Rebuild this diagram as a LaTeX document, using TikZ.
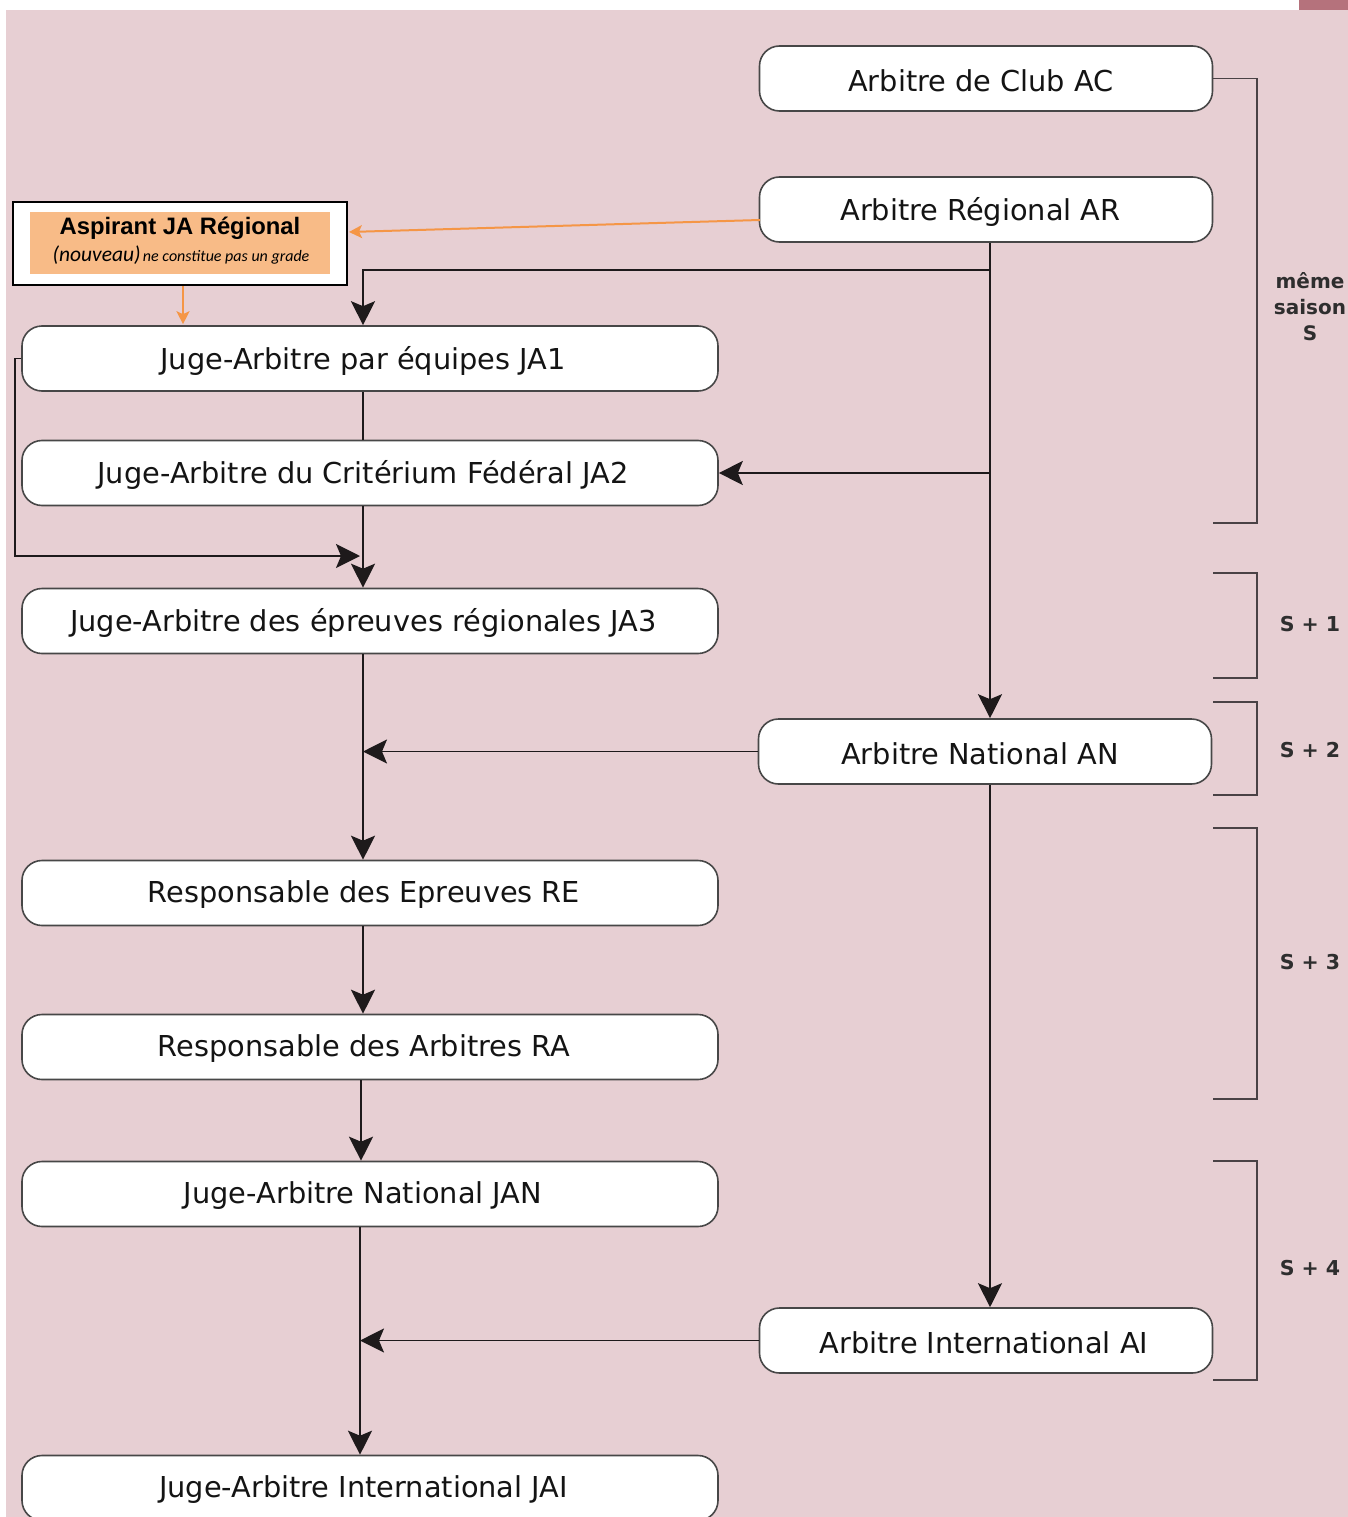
\documentclass[tikz,border=0pt]{standalone}
\usepackage{fontspec}
\setmainfont{DejaVu Sans}
\newfontfamily\aspfont{Liberation Sans}
\newfontfamily\calfont{Carlito}
\usetikzlibrary{arrows.meta,calc}
\definecolor{bgpink}{HTML}{E7CFD3}
\definecolor{darkpink}{HTML}{B5727C}
\definecolor{aspfill}{HTML}{F8BB87}
\definecolor{aspline}{HTML}{F59646}
\definecolor{lineclr}{HTML}{1E1A1B}
\definecolor{brkclr}{HTML}{4A4245}
\tikzset{
  box/.style={draw=black!72, line width=1.6pt, fill=white, rounded corners=20pt,
    minimum height=65pt, inner sep=0pt},
  lbox/.style={box, minimum width=696pt},
  rbox/.style={box, minimum width=453pt},
  tx/.style={font=\fontsize{28.8}{34}\selectfont, text=black!92, inner sep=0pt, yshift=-2pt},
  arr/.style={draw=lineclr, line width=1.8pt, -{Stealth[length=24pt,width=24pt,inset=5pt]}},
  plain/.style={draw=lineclr, line width=1.8pt},
  oarr/.style={draw=aspline, line width=2pt, -{Stealth[length=13pt,width=13pt,inset=3pt]}},
  brk/.style={draw=brkclr, line width=1.6pt},
  side/.style={font=\fontsize{20}{26}\selectfont\bfseries, text=black!82, align=center, inner sep=0pt},
  sideS/.style={font=\fontsize{20.5}{26}\selectfont\bfseries, text=black!82, inner sep=0pt}
}
\begin{document}
\begin{tikzpicture}[x=1pt,y=-1pt]
\useasboundingbox (0,0) rectangle (1348,1517);
\clip (0,0) rectangle (1348,1517);
\fill[bgpink] (6,10) rectangle (1348,1517);
\fill[darkpink] (1299,0) rectangle (1348,10);

% right column
\node[rbox, label={[tx,xshift=-5pt]center:Arbitre de Club AC}] (AC) at (986,78.5) {};
\node[rbox, label={[tx,xshift=-5.5pt]center:Arbitre Régional AR}] (AR) at (986,209.5) {};
\node[rbox, label={[tx,xshift=-5pt]center:Arbitre National AN}] (AN) at (985,751.5) {};
\node[rbox, label={[tx,xshift=-2pt]center:Arbitre International AI}] (AI) at (986,1340.5) {};

% left column
\node[lbox, label={[tx,xshift=-7pt]center:Juge-Arbitre par équipes JA1}] (JA1) at (370,358.5) {};
\node[lbox, label={[tx,xshift=-7pt]center:Juge-Arbitre du Critérium Fédéral JA2}] (JA2) at (370,473) {};
\node[lbox, label={[tx,xshift=-6.5pt]center:Juge-Arbitre des épreuves régionales JA3}] (JA3) at (370,621) {};
\node[lbox, label={[tx,xshift=-6pt]center:Responsable des Epreuves RE}] (RE) at (370,893) {};
\node[lbox, label={[tx,xshift=-6pt]center:Responsable des Arbitres RA}] (RA) at (370,1047) {};
\node[lbox, label={[tx,xshift=-7pt]center:Juge-Arbitre National JAN}] (JAN) at (370,1194) {};
\node[lbox, label={[tx,xshift=-6.5pt]center:Juge-Arbitre International JAI}] (JAI) at (370,1488) {};

% aspirant box
\node[draw=black, line width=2.2pt, fill=white, minimum width=334pt, minimum height=83pt, inner sep=0pt] (asp) at (180,243.5) {};
\node[fill=aspfill, minimum width=300pt, minimum height=62pt, inner sep=0pt] (aspin) at (180,243) {};
\node[font=\aspfont\fontsize{23.8}{28}\selectfont\bfseries, inner sep=0pt] (asptitle) at (180,228.5) {Aspirant JA Régional};
\node[font=\calfont\itshape, inner sep=0pt] (aspsub) at (181,255) {{\fontsize{21.5}{24}\selectfont (nouveau)} {\fontsize{16}{18}\selectfont ne constitue pas un grade}};

% spine coordinates
\coordinate (L) at (363,0);
\coordinate (L2) at (361,0);
\coordinate (L3) at (360,0);
\coordinate (R) at (990,0);
\coordinate (j1) at (990,270);
\coordinate (loopx) at (15,0);
\coordinate (loopend) at (360,556);

% connectors
\draw[arr] (AR.south -| R) -- (AN.north -| R);
\draw[arr] (j1) -- (j1 -| L) -- (JA1.north -| L);
\draw[arr] (R |- JA2.east) -- (JA2.east);
\draw[plain] (JA1.south -| L) -- (JA2.north -| L);
\draw[arr] (JA2.south -| L) -- (JA3.north -| L);
\draw[arr] (JA1.west) -- (JA1.west -| loopx) |- (loopend);
\draw[arr] (JA3.south -| L) -- (RE.north -| L);
\draw[arr] (AN.west) -- (AN.west -| L);
\draw[arr] (RE.south -| L) -- (RA.north -| L);
\draw[arr] (RA.south -| L2) -- (JAN.north -| L2);
\draw[arr] (JAN.south -| L3) -- (JAI.north -| L3);
\draw[arr] (AN.south -| R) -- (AI.north -| R);
\draw[arr] (AI.west) -- (AI.west -| L3);

% orange connectors
\coordinate (arO) at (760,220);
\coordinate (aspO) at (349,232);
\draw[oarr] (arO) -- (aspO);
\coordinate (dnx) at (183,0);
\draw[oarr] (asp.south -| dnx) -- ($(JA1.north -| dnx)+(0,-1)$);

% brackets
\draw[brk] (AC.east) -- (1257,78.5) -- (1257,523) -- (1213,523);
\draw[brk] (1213,573) -- (1257,573) -- (1257,678) -- (1213,678);
\draw[brk] (1213,702) -- (1257,702) -- (1257,795) -- (1213,795);
\draw[brk] (1213,828) -- (1257,828) -- (1257,1099) -- (1213,1099);
\draw[brk] (1213,1161) -- (1257,1161) -- (1257,1380) -- (1213,1380);

% side labels
\node[side] (s0) at (1310,307) {même\\saison\\S};
\node[sideS] (s1) at (1310,624) {S + 1};
\node[sideS] (s2) at (1310,750) {S + 2};
\node[sideS] (s3) at (1310,962) {S + 3};
\node[sideS] (s4) at (1310,1268) {S + 4};
\end{tikzpicture}
\end{document}
